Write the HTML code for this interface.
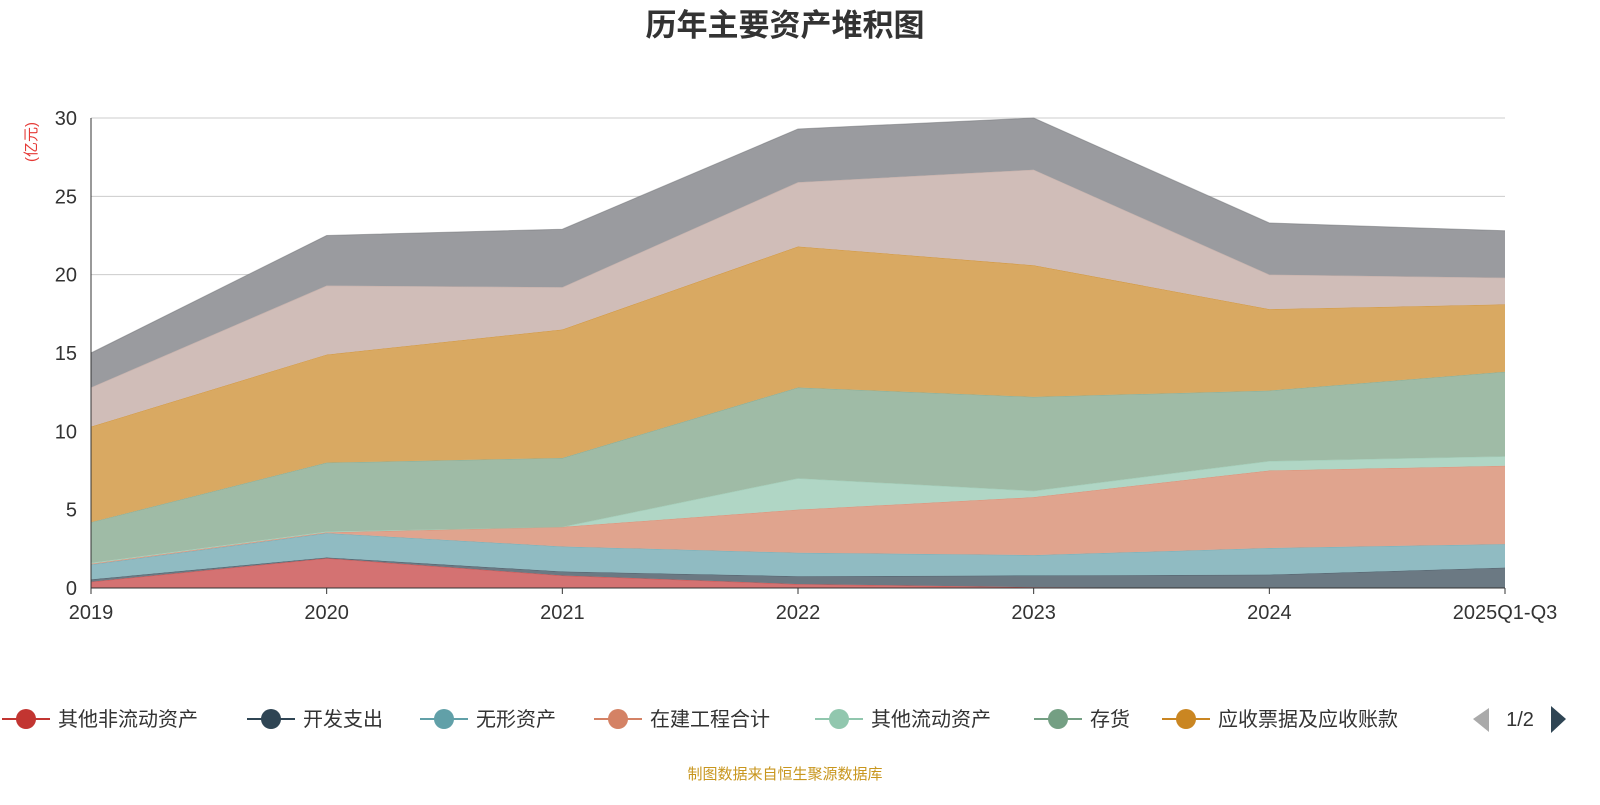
<!DOCTYPE html>
<html><head><meta charset="utf-8"><style>
body{margin:0;background:#fff;width:1600px;height:800px;overflow:hidden;font-family:"Liberation Sans","Noto Sans CJK SC",sans-serif}
</style></head><body>
<svg id="chart" width="1600" height="800" xmlns="http://www.w3.org/2000/svg">
<text x="785" y="36" text-anchor="middle" font-size="31" font-weight="bold" fill="#333" font-family="Liberation Sans,Noto Sans CJK SC,sans-serif">历年主要资产堆积图</text>
<text transform="translate(36,142) rotate(-90)" text-anchor="middle" font-size="15" fill="#e53935" font-family="Liberation Sans,Noto Sans CJK SC,sans-serif">(亿元)</text>
<g id="grid"></g><g id="areas"></g><g id="axes"></g><g id="legend"></g>
<text x="785" y="779" text-anchor="middle" font-size="15" fill="#c8961e" font-family="Liberation Sans,Noto Sans CJK SC,sans-serif">制图数据来自恒生聚源数据库</text>
</svg>
<script>
const categories=["2019","2020","2021","2022","2023","2024","2025Q1-Q3"];
const yTicks=[0,5,10,15,20,25,30];
const seriesNames=["其他非流动资产","开发支出","无形资产","在建工程合计","其他流动资产","存货","应收票据及应收账款","货币资金","其他"];
const sOther=[0.4,1.9,0.8,0.25,0.05,0,0];
const sDev=[0.15,0.05,0.25,0.5,0.75,0.85,1.3];
const sIntang=[0.95,1.55,1.6,1.5,1.3,1.7,1.5];
const sCip=[0.05,0.05,1.25,2.75,3.7,4.95,5.0];
const sOcur=[0.05,0.05,0,2.0,0.4,0.6,0.6];
const sInv=[2.6,4.4,4.4,5.8,6.0,4.5,5.4];
const sRec=[6.1,6.9,8.2,9.0,8.4,5.2,4.3];
const sCash=[2.5,4.4,2.7,4.1,6.1,2.2,1.7];
const sTop=[2.2,3.2,3.7,3.4,3.3,3.3,3.0];
const seriesData=[sOther,sDev,sIntang,sCip,sOcur,sInv,sRec,sCash,sTop];
const fills=["#d47272","#6b7983","#90bbc2","#e0a48e","#b0d6c5","#9fbba6","#d9a962","#d0bdb8","#9a9b9f"];
const lines=["#c23531","#2f4554","#61a0a8","#d48265","#91c7ae","#749f83","#ca8622","#bda29a","#6e7074"];
const NS="http://www.w3.org/2000/svg";
const X0=91,X1=1505,Y0=588,Y1=118,YMAX=30;
const xs=i=>X0+(X1-X0)*i/(categories.length-1);
const ys=v=>Y0-(Y0-Y1)*v/YMAX;
function mk(t,a,p){const e=document.createElementNS(NS,t);for(const k in a)e.setAttribute(k,a[k]);p.appendChild(e);return e;}
const grid=document.getElementById('grid'),areas=document.getElementById('areas'),axes=document.getElementById('axes'),legend=document.getElementById('legend');
yTicks.forEach(t=>{
 const l=mk('line',{x1:X0,x2:X1,y1:ys(t),y2:ys(t),stroke:t===0?'#333':'#ccc','stroke-width':1},grid);
 
 
 const tx=mk('text',{x:X0-14,y:ys(t)+7,'text-anchor':'end','font-size':20,fill:'#333'},axes);
 tx.textContent=t;
 
 
});
const ax=mk('line',{x1:X0,x2:X0,y1:Y1,y2:Y0,stroke:'#333'},axes);


const xa=mk('line',{x1:X0,x2:X1,y1:Y0,y2:Y0,stroke:'#333'},axes);


categories.forEach((c,i)=>{
 mk('line',{x1:xs(i),x2:xs(i),y1:Y0,y2:Y0+6,stroke:'#333'},axes);
 const tx=mk('text',{x:xs(i),y:Y0+31,'text-anchor':'middle','font-size':20,fill:'#333'},axes);
 tx.textContent=c;
 
 
});
let base=categories.map(()=>0);
seriesData.forEach((d,s)=>{
 const top=base.map((b,i)=>b+d[i]);
 let p='M'+top.map((v,i)=>xs(i)+','+ys(v)).join('L');
 for(let i=categories.length-1;i>=0;i--)p+='L'+xs(i)+','+ys(base[i]);
 const a=mk('path',{d:p+'Z',fill:fills[s]},areas);
 
 
 const ln=mk('polyline',{points:top.map((v,i)=>xs(i)+','+ys(v)).join(' '),fill:'none',stroke:lines[s],'stroke-width':1,'stroke-opacity':0.5},areas);
 
 
 base=top;
});
const lx=[0,245,418,592,813,1032,1160];
for(let i=0;i<7;i++){
 const g=mk('g',{},legend);
 
 
 mk('line',{x1:lx[i]+2,x2:lx[i]+50,y1:719,y2:719,stroke:lines[i],'stroke-width':2},g);
 mk('circle',{cx:lx[i]+26,cy:719,r:10,fill:lines[i]},g);
 const t=mk('text',{x:lx[i]+58,y:726,'font-size':20,fill:'#333'},g);
 t.textContent=seriesNames[i];
}
const pl=mk('path',{d:'M1489,708L1473,719L1489,732Z',fill:'#aaa'},legend);


const pt=mk('text',{x:1520,y:726,'text-anchor':'middle','font-size':20,fill:'#333'},legend);
pt.textContent='1/2';


const pn=mk('path',{d:'M1551,706L1566,719L1551,733Z',fill:'#2f4554'},legend);


</script>
</body></html>
